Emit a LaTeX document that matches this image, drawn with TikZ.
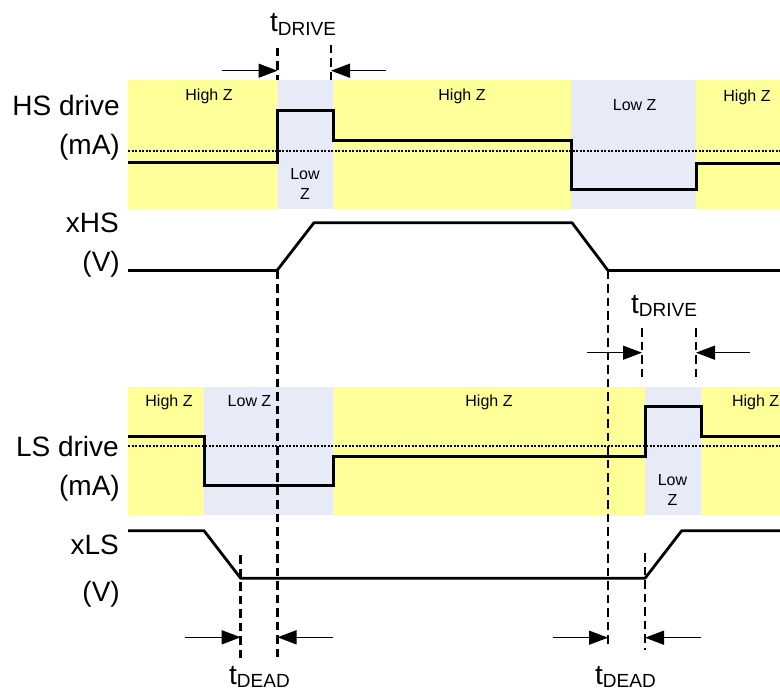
\documentclass[tikz,border=0pt]{standalone}
\usepackage{fontspec}
\setmainfont{Liberation Sans}
\usetikzlibrary{arrows.meta}
\definecolor{zhigh}{RGB}{255,255,153}
\definecolor{zlow}{RGB}{231,235,247}
\newcommand\mytsub[1]{{\fontsize{28}{30}\selectfont t}\raisebox{-3.5pt}{\fontsize{19}{20}\selectfont #1}}
\begin{document}
\begin{tikzpicture}[x=1pt,y=-1pt,
  yband/.style={fill=zhigh,draw=none},
  bband/.style={fill=zlow,draw=none},
  sig/.style={line width=3pt,line join=miter},
  vsig/.style={line width=2.8pt,line join=round},
  dashv/.style={line width=2.6pt,dash pattern=on 8.5pt off 5pt},
  dotref/.style={line width=2pt,dash pattern=on 2pt off 1.5pt},
  dimarrow/.style={line width=1.4pt,-{Triangle[length=19pt,width=14pt]}},
  biglbl/.style={inner sep=0pt,anchor=base east,font=\fontsize{28}{30}\selectfont},
  bandtxt/.style={inner sep=0pt,anchor=base,font=\fontsize{16}{20}\selectfont,align=center},
  tlbl/.style={inner sep=0pt,anchor=base west}
]
\useasboundingbox (0,0) rectangle (780,690);
% ---------- HS band ----------
\fill[yband] (128,80) rectangle (780,209);
\fill[bband] (278,80) rectangle (333,209);
\fill[bband] (571,80) rectangle (696,209);
% ---------- LS band ----------
\fill[yband] (128,387) rectangle (780,515);
\fill[bband] (204,387) rectangle (333,515);
\fill[bband] (645,387) rectangle (701,515);
% reference dotted lines
\draw[dotref] (128,151.5) -- (780,151.5);
\draw[dotref] (128,446.3) -- (780,446.3);
% HS drive current
\draw[sig] (128,162.7) -- (277.5,162.7) -- (277.5,111) -- (333,111) -- (333,140.5)
  -- (571,140.5) -- (571,190) -- (696,190) -- (696,163.3) -- (780,163.3);
% xHS voltage
\draw[vsig] (128,270.5) -- (277,270.5) -- (314,222.7) -- (572,222.7) -- (608,270.5) -- (780,270.5);
% LS drive current
\draw[sig] (128,436) -- (204,436) -- (204,485.3) -- (333,485.3) -- (333,456)
  -- (645,456) -- (645,406) -- (701,406) -- (701,436) -- (780,436);
% xLS voltage
\draw[vsig] (128,530.7) -- (204,530.7) -- (240.7,578.3) -- (645,578.3) -- (681.7,530.7) -- (780,530.7);
% dashed timing markers
\draw[dashv] (277.5,48) -- (277.5,80);
\draw[dashv] (331,45) -- (331,80);
\draw[dashv] (277.5,270.5) -- (277.5,658);
\draw[dashv] (608,270.5) -- (608,648);
\draw[dashv] (642,328) -- (642,378);
\draw[dashv] (696,328) -- (696,382);
\draw[dashv] (240.7,555) -- (240.7,658);
\draw[dashv] (645,553) -- (645,650);
% dimension arrows
\coordinate (d1s) at (222,70.7);  \coordinate (d1e) at (277.5,70.7);
\coordinate (d2s) at (386,70.7);  \coordinate (d2e) at (331,70.7);
\coordinate (d3s) at (587,352.7); \coordinate (d3e) at (642,352.7);
\coordinate (d4s) at (750,352.7); \coordinate (d4e) at (696,352.7);
\coordinate (d5s) at (185,637.3); \coordinate (d5e) at (240.7,637.3);
\coordinate (d6s) at (333,637.3); \coordinate (d6e) at (277.5,637.3);
\coordinate (d7s) at (553,637.7); \coordinate (d7e) at (608,637.7);
\coordinate (d8s) at (701,637.7); \coordinate (d8e) at (645,637.7);
\draw[dimarrow] (d1s) -- (d1e);
\draw[dimarrow] (d2s) -- (d2e);
\draw[dimarrow] (d3s) -- (d3e);
\draw[dimarrow] (d4s) -- (d4e);
\draw[dimarrow] (d5s) -- (d5e);
\draw[dimarrow] (d6s) -- (d6e);
\draw[dimarrow] (d7s) -- (d7e);
\draw[dimarrow] (d8s) -- (d8e);
% left labels
\node[biglbl] (hsd) at (120,116) {HS drive};
\node[biglbl] (hsma) at (120,155) {(mA)};
\node[biglbl] (xhs) at (119,233) {xHS};
\node[biglbl] (xhsv) at (120,272) {(V)};
\node[biglbl] (lsd) at (119,456) {LS drive};
\node[biglbl] (lsma) at (120,495) {(mA)};
\node[biglbl] (xls) at (119,554) {xLS};
\node[biglbl] (xlsv) at (120,601) {(V)};
% band texts
\node[bandtxt] (hz1) at (209,101) {High Z};
\node[bandtxt] (lz1) at (305,200) {Low\\Z};
\node[bandtxt] (hz2) at (462,101) {High Z};
\node[bandtxt] (lz2) at (634.7,110.7) {Low Z};
\node[bandtxt] (hz3) at (747,101.7) {High Z};
\node[bandtxt] (hz4) at (169,406.7) {High Z};
\node[bandtxt] (lz3) at (249.5,406.7) {Low Z};
\node[bandtxt] (hz5) at (489,406.7) {High Z};
\node[bandtxt] (lz4) at (672.5,505) {Low\\Z};
\node[bandtxt] (hz6) at (755.7,406.7) {High Z};
% timing labels
\node[tlbl] (tdr1) at (270,32) {\mytsub{DRIVE}};
\node[tlbl] (tdr2) at (631,313) {\mytsub{DRIVE}};
\node[tlbl] (tde1) at (229,684) {\mytsub{DEAD}};
\node[tlbl] (tde2) at (595,684) {\mytsub{DEAD}};
\end{tikzpicture}
\end{document}
